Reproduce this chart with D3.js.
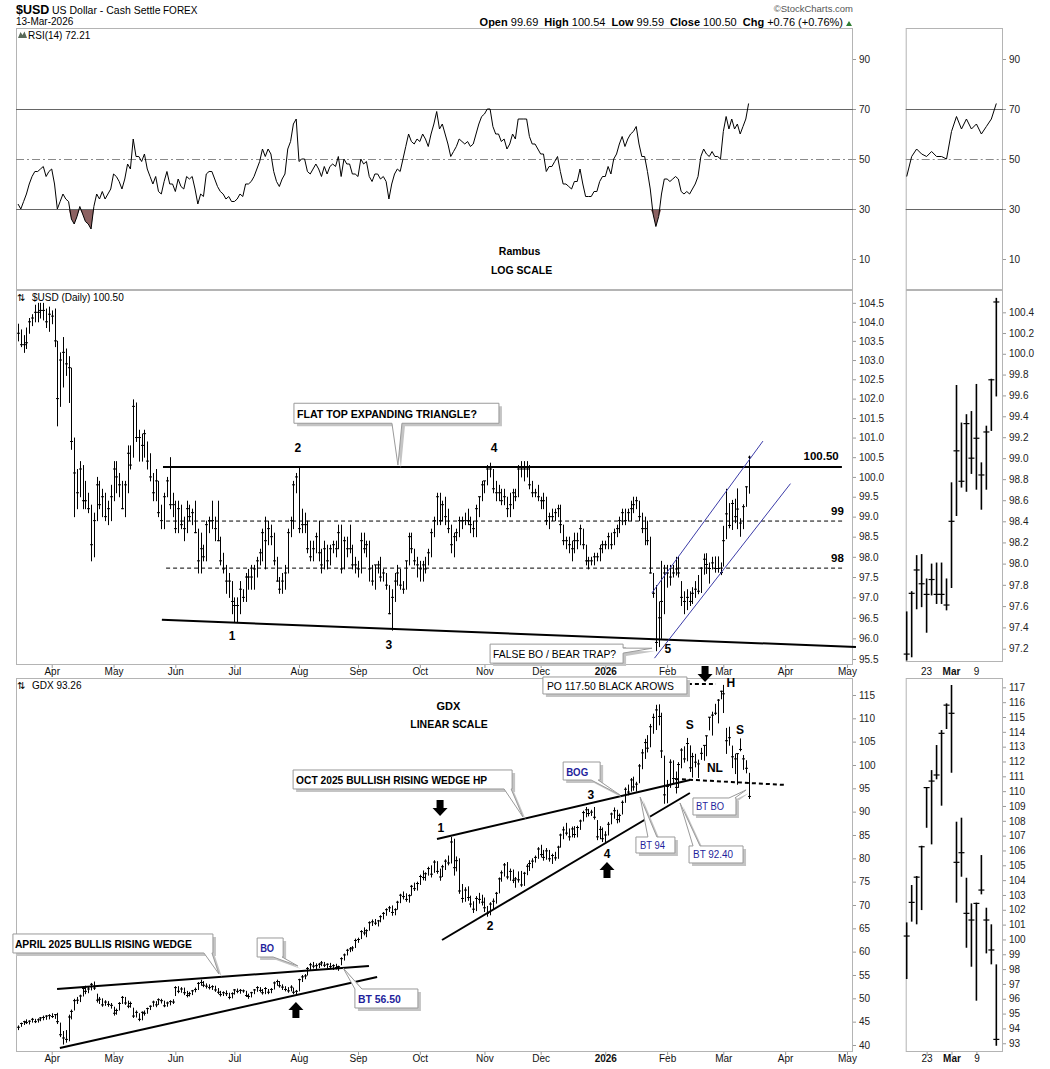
<!DOCTYPE html>
<html><head><meta charset="utf-8">
<script src="https://cdn.jsdelivr.net/npm/d3@7/dist/d3.min.js"></script>
<style>
html,body{margin:0;padding:0;background:#fff;}
svg{display:block;}
text{font-family:"Liberation Sans",Arial,sans-serif;}
</style></head><body>
<svg id="chart" width="1050" height="1069"></svg>
<script>
// ================= DATA =================
const usdHigh=[103.95,103.8,103.65,103.85,104.1,104.2,104.45,104.5,104.5,104.5,104.35,104.4,104.3,104.35,
103.5,103.2,103.6,103.3,103.1,102.8,101.0,
100.2,100.4,100.3,99.9,99.6,99.3,99.1,100.0,99.9,99.7,
99.6,99.4,99.8,100.4,100.4,100.1,99.9,99.9,100.8,100.8,
101.98,101.9,101.2,101.1,101.2,100.9,100.6,100.1,100.2,99.9,
99.3,99.6,100.0,100.5,99.6,99.4,99.4,99.3,99.0,99.4,
99.3,99.2,99.4,98.7,98.6,98.3,98.9,99.0,99.4,99.0,
99.4,98.5,98.1,97.8,97.6,97.4,97.0,97.0,97.4,97.2,
97.6,97.7,97.8,97.8,98.0,98.2,98.7,99.0,98.9,98.8,
98.6,98.0,97.5,97.6,97.8,98.7,99.0,99.9,100.1,100.25,
99.2,99.1,98.9,98.4,98.4,98.6,98.9,98.2,98.4,98.3,
98.3,98.4,98.4,98.8,98.8,98.5,98.5,98.8,98.3,98.0,
97.9,98.6,98.6,98.4,98.4,97.8,97.8,97.9,98.0,97.7,
97.6,97.3,97.2,97.6,97.8,97.7,97.4,97.9,98.6,98.6,
98.2,98.0,97.9,97.9,98.0,98.2,98.7,99.0,99.6,99.6,
99.4,99.5,99.2,98.8,98.6,98.7,99.0,99.0,99.1,99.2,
99.0,98.9,99.3,99.5,99.9,99.9,100.3,100.36,100.2,99.9,
99.8,99.7,99.7,99.5,99.6,99.7,99.7,100.3,100.4,100.4,
100.4,100.3,99.9,99.7,99.8,99.5,99.6,99.5,99.1,99.2,
99.2,99.3,99.3,98.8,98.5,98.5,98.4,98.6,98.6,98.8,
98.7,98.3,98.0,98.0,98.1,98.1,98.3,98.4,98.4,98.6,
98.6,98.7,98.8,99.0,99.2,99.2,99.2,99.4,99.5,99.5,
99.4,99.1,99.0,98.9,98.5,97.6,97.3,96.9,97.9,97.8,
97.8,97.8,97.8,98.0,98.0,97.4,97.15,97.2,97.15,97.25,97.4,
97.55,97.74,98.08,98.09,97.86,98.0,98.01,98.01,97.86,98.77,99.70,99.34,99.42,99.45,99.71,98.96,99.31,99.76,100.54];
const usdLow=[103.5,103.35,103.2,103.3,103.7,103.9,104.0,104.0,104.1,104.05,103.85,103.75,103.95,103.35,
101.3,101.8,102.3,102.6,101.9,100.7,99.0,
99.2,99.5,99.2,99.2,99.1,97.9,98.0,98.9,99.2,99.0,
98.9,98.8,98.9,99.4,99.6,99.5,99.2,99.0,99.6,100.2,
100.5,100.9,100.4,100.4,100.5,100.2,99.9,99.4,99.4,99.0,
98.7,98.7,99.5,99.2,99.0,98.6,98.6,98.7,98.4,98.6,
98.9,98.8,98.6,97.6,97.6,97.9,97.9,98.6,98.7,98.4,
98.4,97.8,97.6,97.1,97.0,96.6,96.4,96.4,96.6,96.9,
96.9,97.2,97.2,97.2,97.5,97.8,97.9,97.7,98.3,98.3,
97.8,97.4,97.1,97.1,97.2,97.6,98.5,98.7,99.6,98.6,
98.6,98.6,98.1,97.9,97.9,98.1,97.9,97.6,97.7,97.7,
97.8,98.1,98.0,98.2,97.6,97.7,98.0,98.1,97.7,97.6,
97.5,97.6,98.1,98.0,97.4,97.3,97.2,97.6,97.4,97.4,
97.2,96.6,96.2,96.9,97.3,97.2,97.1,97.2,97.8,98.1,
97.8,97.5,97.4,97.4,97.6,97.8,98.0,98.5,98.8,98.8,
98.9,98.8,98.6,98.1,98.0,98.4,98.5,98.7,98.8,98.8,
98.6,98.5,98.5,99.0,99.4,99.6,99.8,100.0,99.6,99.4,
99.4,99.3,99.3,99.0,99.0,99.2,99.4,99.5,100.0,99.9,
100.0,99.7,99.5,99.5,99.4,99.2,99.2,98.8,98.7,98.9,
98.9,99.0,98.6,98.3,98.2,98.1,97.9,98.1,98.2,98.3,
98.2,97.8,97.7,97.8,97.8,97.9,97.9,98.1,98.2,98.2,
98.2,98.3,98.5,98.6,98.8,98.8,98.9,98.9,99.1,99.2,
98.9,98.6,98.3,98.3,97.6,97.0,95.7,95.8,96.0,96.6,
97.25,97.3,97.5,97.55,97.5,96.8,96.6,96.7,96.8,96.85,97.0,
97.09,97.12,97.57,97.59,97.35,97.70,97.62,97.62,97.56,97.77,98.45,98.72,98.68,98.85,98.70,98.51,98.70,99.26,99.59];
const usdClose=[103.7,103.4,103.4,103.45,104.0,104.1,104.25,104.25,104.3,104.3,104.0,104.2,104.15,103.5,
102.0,103.0,103.2,102.9,102.8,100.9,100.1,
99.6,100.2,99.4,99.4,99.2,98.3,98.9,99.8,99.3,99.5,
99.0,99.2,99.5,100.2,100.0,99.8,99.2,99.8,100.6,100.3,
101.8,101.0,101.0,100.8,101.1,100.4,100.0,99.6,99.9,99.1,
98.9,99.5,99.9,99.3,99.3,98.7,99.2,98.8,98.7,99.2,
99.0,99.1,98.6,97.9,98.2,98.0,98.8,98.9,98.9,98.7,
98.4,97.9,97.7,97.4,97.4,96.9,96.8,96.8,97.2,97.0,
97.5,97.5,97.5,97.7,97.9,98.1,98.6,98.4,98.7,98.5,
97.9,97.4,97.2,97.4,97.6,98.6,98.9,99.8,100.0,98.7,
98.8,98.8,98.2,98.0,98.2,98.5,98.1,97.8,98.2,97.9,
98.2,98.3,98.2,98.6,97.7,98.4,98.2,98.2,97.8,97.8,
97.7,98.4,98.2,98.3,97.7,97.4,97.8,97.8,97.5,97.6,
97.3,96.6,97.0,97.4,97.6,97.3,97.2,97.9,98.5,98.2,
97.9,97.8,97.7,97.8,97.7,98.1,98.6,98.9,99.5,98.9,
99.3,99.0,98.7,98.3,98.5,98.6,98.9,98.9,98.9,98.9,
98.8,98.7,99.2,99.5,99.8,99.9,100.2,100.2,99.7,99.6,
99.6,99.4,99.5,99.2,99.3,99.6,99.5,100.2,100.2,100.2,
100.2,99.8,99.6,99.6,99.5,99.4,99.4,98.9,99.0,99.0,
99.1,99.2,98.8,98.4,98.4,98.3,98.2,98.4,98.4,98.7,
98.3,97.9,97.9,97.9,98.0,98.0,98.2,98.3,98.3,98.5,
98.3,98.6,98.7,98.9,99.1,98.9,99.1,99.2,99.3,99.4,
99.0,98.7,98.7,98.4,97.6,97.1,95.9,96.5,96.9,97.6,
97.6,97.5,97.6,97.7,97.6,97.0,96.9,97.0,96.9,97.1,97.2,
97.15,97.72,97.94,97.81,97.71,97.85,97.71,97.71,97.61,98.40,99.07,98.78,99.33,99.0,99.19,98.84,99.25,99.75,100.50];

const gdxHigh=[44.2,44.8,45.2,45.5,45.3,45.8,45.6,45.7,46.0,46.3,
46.4,46.6,46.8,46.6,46.9,44.8,43.0,43.2,46.5,47.6,
49.9,50.3,50.8,52.4,52.7,52.5,53.3,53.6,51.0,50.3,
50.0,49.6,49.4,49.0,48.2,47.8,49.2,50.5,50.3,49.5,
49.3,48.0,47.4,46.8,47.2,47.4,48.0,48.5,49.5,49.4,
50.0,49.9,49.5,49.3,49.6,49.8,52.6,52.6,52.4,52.3,
51.6,51.4,51.8,52.3,53.5,54.0,53.7,53.2,53.0,52.8,
52.7,52.2,51.6,51.5,51.7,51.2,51.3,52.0,52.1,52.0,
51.9,51.6,51.0,51.4,52.0,52.6,52.4,52.0,52.4,52.0,
52.2,53.6,54.0,53.7,53.0,52.6,52.4,52.8,52.3,51.8,
54.2,55.0,55.2,56.7,57.6,57.8,57.5,57.6,58.0,57.8,
57.5,57.6,57.3,57.4,57.0,58.8,59.6,60.6,61.0,61.2,
62.8,63.0,64.6,65.2,64.8,66.5,66.9,67.0,66.8,67.8,
68.5,69.3,69.8,69.9,69.3,70.9,72.4,72.9,72.5,72.3,
74.3,74.8,75.0,76.5,77.4,77.0,78.2,78.5,79.6,79.4,
77.8,78.6,79.8,80.6,84.6,84.2,80.4,80.0,74.5,73.8,
74.0,72.0,70.8,71.9,72.6,72.2,71.6,69.8,70.6,71.4,
72.8,75.9,77.4,79.0,79.2,77.8,77.6,76.0,77.2,77.3,
77.1,78.8,79.6,80.0,80.6,82.4,82.9,81.8,82.2,81.8,
81.0,81.4,82.7,85.3,86.8,87.6,86.4,86.8,86.9,87.0,
88.3,90.2,91.0,90.6,90.4,91.0,88.2,86.9,86.6,85.8,
87.8,89.8,90.9,90.4,89.6,92.4,95.2,95.8,97.2,97.5,
96.4,100.2,103.4,105.6,106.4,108.8,111.0,112.9,113.0,111.2,
102.0,96.8,101.2,101.0,98.6,100.6,103.6,104.0,105.8,104.2,102.6,102.4,
101.15,103.67,104.28,106.32,110.26,111.42,113.11,114.12,115.92,117.16,107.94,108.21,104.16,102.43,102.48,105.69,102.14,101.02,98.32];
const gdxLow=[43.3,44.0,44.4,44.6,44.5,44.9,44.8,44.9,45.2,45.4,
45.5,45.6,45.9,45.7,44.6,41.8,40.2,40.6,40.9,45.6,
47.5,48.9,49.3,50.5,51.0,51.2,51.8,51.9,49.2,48.9,
48.3,48.5,48.3,47.9,46.4,46.6,47.5,48.9,48.7,48.0,
48.1,45.9,46.0,45.2,45.4,46.4,46.8,47.6,48.3,48.2,
48.7,49.0,48.2,48.3,48.6,48.9,50.6,51.2,51.3,50.8,
50.3,50.5,50.8,51.4,51.9,52.8,52.5,52.2,52.0,51.9,
51.5,51.0,50.5,50.6,50.6,49.9,50.1,50.9,51.2,51.1,
51.3,50.4,50.0,50.3,51.0,51.5,51.4,50.9,51.0,51.0,
51.2,52.0,52.8,52.4,51.9,51.6,51.3,51.6,51.0,50.9,
51.6,53.6,54.2,55.0,56.2,56.5,56.4,56.6,57.0,56.8,
56.6,56.5,56.2,56.3,56.0,57.2,58.2,59.3,60.0,60.2,
60.9,62.0,62.8,63.6,63.2,64.6,65.6,65.8,65.5,66.4,
67.0,67.8,68.6,67.8,67.9,69.1,70.5,71.3,70.8,70.6,
72.1,73.1,73.2,74.4,75.4,75.3,76.4,76.0,77.0,76.8,
75.3,76.1,77.6,78.6,79.0,76.4,77.3,72.5,70.6,70.8,
71.0,69.6,68.4,68.8,70.4,70.0,68.6,67.6,67.9,69.2,
70.4,72.6,75.1,76.2,75.6,75.3,74.8,73.8,74.9,74.0,
74.2,76.5,77.4,78.0,79.2,80.0,80.3,79.6,79.8,79.4,
78.9,79.6,80.0,82.4,84.2,85.0,83.9,84.6,84.5,84.6,
86.2,88.0,88.9,89.1,89.2,88.4,84.0,84.2,83.6,83.5,
85.0,87.4,88.6,87.6,87.8,89.5,92.0,93.6,94.4,94.6,
94.4,96.2,99.2,101.4,102.8,103.9,106.8,107.6,108.6,101.6,
91.8,91.9,95.2,96.2,94.0,95.2,99.4,100.6,100.9,98.6,97.4,99.6,
97.33,101.2,101.02,101.98,107.53,106.41,110.8,109.02,114.19,111.24,102.48,104.23,99.44,98.16,95.87,103.04,99.06,98.32,92.83];
const gdxClose=[43.8,44.6,45.0,44.8,45.1,45.5,45.0,45.4,45.8,45.9,
46.2,46.3,46.1,46.5,45.0,42.2,41.5,41.2,46.0,47.2,
49.5,49.6,50.5,52.1,51.5,52.0,53.0,52.2,49.6,49.8,
48.6,49.2,48.7,48.5,46.8,47.4,48.9,50.2,49.0,48.3,
48.9,46.2,47.0,45.5,47.0,46.8,47.8,48.3,49.2,48.6,
49.7,49.5,48.4,49.0,49.3,49.2,52.3,51.5,52.0,51.2,
50.6,51.0,51.6,51.9,53.2,53.4,52.8,52.6,52.3,52.5,
51.8,51.3,50.8,51.2,51.0,50.2,51.0,51.8,51.5,51.7,
51.6,50.6,50.4,51.2,51.8,52.3,51.7,51.2,52.1,51.3,
51.9,53.3,53.6,52.7,52.4,51.9,51.6,52.4,51.3,51.5,
54.0,54.6,54.8,56.4,57.2,56.9,57.0,57.3,57.6,57.1,
57.3,56.8,57.0,56.6,56.8,58.5,59.3,60.3,60.6,60.8,
62.4,62.6,64.3,64.0,64.5,66.2,66.4,66.1,66.6,67.5,
68.2,69.0,69.4,68.4,69.0,70.6,72.1,71.8,71.2,72.0,
74.0,73.5,74.6,76.1,75.9,76.7,77.8,76.6,79.2,77.2,
76.0,78.2,79.4,79.0,83.5,78.0,79.5,73.0,71.4,73.2,
71.6,70.2,69.1,71.4,71.2,70.6,69.4,68.2,70.2,70.8,
72.5,75.6,76.9,78.6,76.0,77.2,75.3,75.6,75.4,74.3,
76.8,78.3,78.9,79.4,80.2,82.0,80.8,80.2,81.6,79.9,
80.6,80.1,82.4,85.0,86.1,85.4,84.6,86.3,85.1,86.6,
88.0,89.8,90.4,89.6,89.9,88.8,84.6,86.2,84.2,85.0,
87.3,89.5,90.2,88.3,89.2,92.0,94.8,94.2,96.8,95.3,
95.9,99.8,102.6,104.8,103.6,108.2,110.2,111.8,110.4,103.0,
93.6,95.4,100.6,97.1,95.2,100.1,103.2,101.3,104.6,99.4,101.8,100.6,
100.23,102.5,104.2,106.25,110.24,110.68,111.09,113.9,115.8,115.25,105.2,105.85,101.76,101.31,102.43,103.33,101.31,99.29,93.26];

const rsiValues=[32,30,33,36,40,43,45,45,46,47,
43,45,46,40,30,33,36,34,33,26,
24,27,31,28,25,24,22,31,36,34,
37,34,36,38,44,43,41,38,42,48,
46,58,51,51,49,52,46,43,40,43,
37,36,41,45,40,40,37,42,39,38,
43,42,43,38,32,36,35,44,45,45,
42,39,37,36,34,35,33,33,34,36,
35,40,40,41,43,46,49,54,51,54,
52,45,41,39,42,44,54,57,64,66,
49,50,50,45,44,46,48,46,43,47,
44,47,48,47,51,43,50,48,48,44,
44,43,50,48,49,43,41,44,44,42,
43,41,34,40,44,46,45,50,55,60,
57,56,58,57,60,58,55,60,64,69,
62,64,60,56,51,53,55,58,57,56,
57,55,56,60,64,67,68,70,70,63,
60,60,57,58,54,56,60,58,66,66,
66,66,59,56,56,54,52,52,45,47,
47,49,51,45,40,40,39,38,41,41,
46,40,35,35,35,37,37,41,43,43,
47,44,50,52,56,59,55,58,60,61,
63,56,51,51,45,38,28,23,27,36,
42,42,41,42,43,42,37,36,37,36,
38,40,43,51,54,52,51,53,51,51,
50,61,67,62,66,62,64,60,63,66,
72.21];

const firstDate=[2025,2,14];      // first bar (weekday series)
const axisBars=298;                // bars incl. future space on the axis
const zoomBars=19;                 // bars shown in the right-hand panels
const rsiTicks=[10,30,50,70,90];
const rsiLevels=[30,50,70];
const usdTicks=d3.range(95.5,104.51,0.5);
const usdZoomTicks=d3.range(97.2,100.41,0.2);
const gdxTicks=d3.range(40,116,5);
const gdxZoomTicks=d3.range(93,118,1);
const zoomDateLabels=[[4,"23"],[9,"Mar"],[14,"9"]];

// annotations (in bar index / price coordinates)
const usdSolidLines=[[[51.6,100.25],[293.2,100.25]],[[51.2,96.45],[298.2,95.79]]];
const usdDashLines=[[[52.7,98.89],[294.3,98.89]],[[52.7,97.72],[294.3,97.72]]];
const usdChannel=[[[225.6,97.11],[265.1,100.91]],[[226.5,95.52],[274.9,99.83]]];
const usdPointLabels=[["1",76.2,96.06],["2",99.6,100.73],["3",132,95.84],["4",169.4,100.73],["5",231.3,95.74]];
const usdLevelLabels=[["100.50",285.8,100.53],["99",291.6,99.14],["98",291.6,97.97]];
const gdxSolidLines=[[[149.1,84.14],[239.1,96.79]],[[150.9,62.5],[239.1,94.0]],[[13.9,52.0],[124.9,56.93]],[[14.9,39.36],[127.8,54.58]]];
const gdxDashLines=[[[233.8,97.0],[273.3,95.72]],[[238.4,117.36],[248.4,117.36]]];
const gdxPointLabels=[["1",150.5,86.5],["2",168,65.5],["3",203.9,93.57],["4",209.6,80.93],["H",253.7,117.57],["S",239.1,108.57],["S",256.9,107.5],["NL",248,99.36]];
const gdxDownArrows=[[150.2,90.8],[244.5,119.5]];
const gdxUpArrows=[[209.6,77.5],[98.9,47.5]];

// ================= LAYOUT / SCALES =================
const svg=d3.select("#chart");
const VF='"DejaVu Sans",Verdana,sans-serif';
const AF='"Liberation Sans",Arial,sans-serif';
const L=16,R=853,RL=905.7,RR=1003;
const P={rsi:[28,290],usd:[290,665],gdx:[678,1052]};
const PR={rsi:[28,290],usd:[290,662],gdx:[678,1052]};
const n=usdClose.length;
const off=n-zoomBars;

const dates=[];{let d=new Date(firstDate[0],firstDate[1],firstDate[2]);while(dates.length<axisBars){const w=d.getDay();if(w!==0&&w!==6)dates.push(new Date(d));d.setDate(d.getDate()+1);}}
const monthTicks=[];for(let i=1;i<dates.length;i++){if(dates[i].getMonth()!==dates[i-1].getMonth())monthTicks.push(i);}
const monthLabel=i=>dates[i].getMonth()===0?String(dates[i].getFullYear()):d3.timeFormat("%b")(dates[i]);

const x=d3.scaleLinear().domain([-0.71,297.15]).range([L,R]);
const xr=d3.scaleLinear().domain([-0.2,19.34]).range([RL,RR]);
const yRsi=d3.scaleLinear().domain([-2.4,102.4]).range([P.rsi[1],P.rsi[0]]);
const yUsd=d3.scaleLog().domain([95.355,104.84]).range([P.usd[1],P.usd[0]]);
const yUsdR=d3.scaleLog().domain([97.076,100.616]).range([PR.usd[1],PR.usd[0]]);
const yGdx=d3.scaleLinear().domain([38.5,118.64]).range([P.gdx[1],P.gdx[0]]);
const yGdxR=d3.scaleLinear().domain([92.41,117.63]).range([PR.gdx[1],PR.gdx[0]]);

// ================= HEADER =================
const hd=svg.append("g");
hd.append("text").attr("x",16).attr("y",14).attr("font-size",12.5).attr("font-weight","bold").text("$USD");
hd.append("text").attr("x",52).attr("y",14).attr("font-size",10.5).text("US Dollar - Cash Settle");
hd.append("text").attr("x",163).attr("y",14).attr("font-size",10).attr("font-family",'"DejaVu Sans Mono",monospace').text("FOREX");
hd.append("text").attr("x",16).attr("y",25).attr("font-size",10).text("13-Mar-2026");
hd.append("text").attr("x",853).attr("y",12).attr("text-anchor","end").attr("font-size",9.5).attr("font-family",VF).attr("fill","#555").text("\u00A9StockCharts.com");
{const t=hd.append("text").attr("x",843).attr("y",26).attr("text-anchor","end").attr("font-size",11);
 const parts=[["Open",1],[" 99.69",0],["High",1,6],[" 100.54",0],["Low",1,6],[" 99.59",0],["Close",1,6],[" 100.50",0],["Chg",1,6],[" +0.76 (+0.76%)",0]];
 parts.forEach(p=>{const s=t.append("tspan").attr("font-weight",p[1]?"bold":"normal").text(p[0]);if(p[2])s.attr("dx",p[2]);});
 hd.append("path").attr("d","M846,26L852,26L849,21Z").attr("fill","#2e7d32");}

// ================= PANELS =================
function frame(x0,y0,x1,y1){svg.append("rect").attr("x",x0+0.5).attr("y",y0+0.5).attr("width",x1-x0-1).attr("height",y1-y0-1).attr("fill","none").attr("stroke","#b4b4b4");}
frame(L,P.rsi[0],R,P.rsi[1]);frame(L,P.usd[0],R,P.usd[1]);frame(L,P.gdx[0],R,P.gdx[1]);
frame(RL,PR.rsi[0],RR,PR.rsi[1]);frame(RL,PR.usd[0],RR,PR.usd[1]);frame(RL,PR.gdx[0],RR,PR.gdx[1]);

function yAxis(xpos,scale,ticks,fmt){
  const g=svg.append("g").attr("transform",`translate(${xpos},0)`)
    .call(d3.axisRight(scale).tickValues(ticks).tickFormat(fmt).tickSize(3).tickPadding(3));
  g.select(".domain").remove();
  g.selectAll("line").attr("stroke","#999");
  g.selectAll("text").attr("font-size",10).attr("font-family",AF).attr("fill","#222");
}
yAxis(R,yRsi,rsiTicks,d3.format("d"));yAxis(RR,yRsi,rsiTicks,d3.format("d"));
yAxis(R,yUsd,usdTicks,d3.format(".1f"));yAxis(RR,yUsdR,usdZoomTicks,d3.format(".1f"));
yAxis(R,yGdx,gdxTicks,d3.format("d"));yAxis(RR,yGdxR,gdxZoomTicks,d3.format("d"));

function xAxis(ypos,scale,ticks,fmt,boldTest){
  const g=svg.append("g").attr("transform",`translate(0,${ypos})`)
    .call(d3.axisBottom(scale).tickValues(ticks).tickFormat(fmt).tickSize(3).tickPadding(0));
  g.select(".domain").remove();
  g.selectAll("line").attr("stroke","#999");
  g.selectAll("text").attr("font-size",10).attr("font-family",AF).attr("fill","#111")
    .attr("font-weight",d=>boldTest(d)?"bold":"normal");
}
xAxis(P.usd[1],x,monthTicks,monthLabel,i=>dates[i].getMonth()===0);
xAxis(P.gdx[1],x,monthTicks,monthLabel,i=>dates[i].getMonth()===0);
const zl=new Map(zoomDateLabels);
const zTicks=zoomDateLabels.map(d=>d[0]);
xAxis(PR.gdx[1],xr,zTicks,k=>zl.get(k),k=>zl.get(k)==="Mar");
// date labels between the right-hand USD and GDX panels
svg.append("g").selectAll("text").data(zoomDateLabels).join("text")
  .attr("x",d=>xr(d[0])).attr("y",675).attr("text-anchor","middle").attr("font-size",10).attr("font-family",AF)
  .attr("font-weight",d=>d[1]==="Mar"?"bold":"normal").attr("fill","#111").text(d=>d[1]);

// panel titles
function arrowsIcon(xp,yp){svg.append("text").attr("x",xp).attr("y",yp).attr("font-size",10).attr("font-family",VF).text("\u21C5");}
svg.append("path").attr("d","M18,38L20.5,32L22.5,35L24.5,31.5L27,38Z").attr("fill","#5a6b5a");
svg.append("text").attr("x",28).attr("y",38.5).attr("font-size",10).attr("font-family",VF).text("RSI(14) 72.21");
arrowsIcon(17,301);svg.append("text").attr("x",32).attr("y",301).attr("font-size",10).attr("font-family",VF).text("$USD (Daily) 100.50");
arrowsIcon(17,689);svg.append("text").attr("x",32).attr("y",689).attr("font-size",10).attr("font-family",VF).text("GDX 93.26");

// ================= RSI =================
function drawRsi(xs,vals){
  const g=svg.append("g");
  g.append("path").datum(vals).attr("fill","#8c6262")
    .attr("d",d3.area().x((d,i)=>xs(i)).y0(yRsi(30)).y1(d=>yRsi(Math.min(d,30))));
  rsiLevels.forEach(v=>{
    g.append("line").attr("x1",xs.range()[0]).attr("x2",xs.range()[1]).attr("y1",Math.round(yRsi(v))+0.5).attr("y2",Math.round(yRsi(v))+0.5)
     .attr("stroke",v===50?"#8a8a8a":"#666").attr("stroke-dasharray",v===50?"8,3,2,3":null);
  });
  g.append("path").datum(vals).attr("fill","none").attr("stroke","#000").attr("stroke-width",1)
    .attr("d",d3.line().x((d,i)=>xs(i)).y(d=>yRsi(d)));
}
drawRsi(x,rsiValues);
drawRsi(xr,rsiValues.slice(off));
svg.append("text").attr("x",x(178.5)).attr("y",yRsi(13.2)).attr("text-anchor","middle").attr("dominant-baseline","central").attr("font-size",10.5).attr("font-weight","bold").text("Rambus");
svg.append("text").attr("x",x(179.2)).attr("y",yRsi(5.6)).attr("text-anchor","middle").attr("dominant-baseline","central").attr("font-size",10.5).attr("font-weight","bold").text("LOG SCALE");

// ================= BARS =================
function drawBars(ys,hi,lo,cl){
  const g=svg.append("g");
  const idx=d3.range(hi.length);
  const px=i=>Math.round(x(i))+0.5;
  g.selectAll("line.v").data(idx).join("line").attr("class","v")
    .attr("x1",px).attr("x2",px).attr("y1",i=>ys(hi[i])).attr("y2",i=>ys(lo[i])+0.5)
    .attr("stroke","#000").attr("stroke-width",1);
  g.selectAll("line.c").data(idx).join("line").attr("class","c")
    .attr("x1",i=>px(i)-1.5).attr("x2",i=>px(i)+1.5).attr("y1",i=>ys(cl[i])).attr("y2",i=>ys(cl[i]))
    .attr("stroke","#000").attr("stroke-width",1);
}
drawBars(yUsd,usdHigh,usdLow,usdClose);
drawBars(yGdx,gdxHigh,gdxLow,gdxClose);
function drawZoom(ys,hi,lo,cl){
  const g=svg.append("g");
  const idx=d3.range(off,hi.length);
  g.selectAll("line.v").data(idx).join("line").attr("class","v")
    .attr("x1",i=>xr(i-off)).attr("x2",i=>xr(i-off)).attr("y1",i=>ys(hi[i])).attr("y2",i=>ys(lo[i]))
    .attr("stroke","#000").attr("stroke-width",1.6);
  g.selectAll("line.c").data(idx).join("line").attr("class","c")
    .attr("x1",i=>xr(i-off)-3).attr("x2",i=>xr(i-off)+3).attr("y1",i=>ys(cl[i])).attr("y2",i=>ys(cl[i]))
    .attr("stroke","#000").attr("stroke-width",1.2);
}
drawZoom(yUsdR,usdHigh,usdLow,usdClose);
drawZoom(yGdxR,gdxHigh,gdxLow,gdxClose);

// ================= ANNOTATIONS =================
const ann=svg.append("g");
function seg(ys,pts,sw,col,dash){
  ann.append("line").attr("x1",x(pts[0][0])).attr("y1",ys(pts[0][1])).attr("x2",x(pts[1][0])).attr("y2",ys(pts[1][1]))
    .attr("stroke",col).attr("stroke-width",sw).attr("stroke-dasharray",dash||null);
}
usdSolidLines.forEach(p=>seg(yUsd,p,2,"#000"));
usdDashLines.forEach(p=>seg(yUsd,p,1,"#000","4,3"));
usdChannel.forEach(p=>seg(yUsd,p,1,"#3c3ca8"));
gdxSolidLines.forEach(p=>seg(yGdx,p,2,"#000"));
gdxDashLines.forEach(p=>seg(yGdx,p,2,"#000","4,3"));

function lbl(ys,t,i,v,size){
  ann.append("text").attr("x",x(i)).attr("y",ys(v)).attr("text-anchor","middle").attr("dominant-baseline","central")
    .attr("font-size",size).attr("font-weight","bold").text(t);
}
usdPointLabels.forEach(d=>lbl(yUsd,d[0],d[1],d[2],12));
usdLevelLabels.forEach(d=>lbl(yUsd,d[0],d[1],d[2],11.5));
gdxPointLabels.forEach(d=>lbl(yGdx,d[0],d[1],d[2],12));
lbl(yGdx,"GDX",153.2,112.64,11);
lbl(yGdx,"LINEAR SCALE",153.4,108.79,10.5);

function blockArrow(cx,cy,dir){
  const p=[[-3.5,-8],[3.5,-8],[3.5,0],[7.5,0],[0,8],[-7.5,0],[-3.5,0]];
  ann.append("path").attr("d","M"+p.map(([a,b])=>[cx+a,cy+b*dir].join(",")).join("L")+"Z").attr("fill","#000");
}
gdxDownArrows.forEach(d=>blockArrow(x(d[0]),yGdx(d[1]),1));
gdxUpArrows.forEach(d=>blockArrow(x(d[0]),yGdx(d[1]),-1));

// callouts: box top-left in data coords, size in px, tail base offsets in px, tip in data coords
function callout(ys,o){
  const x0=x(o.at[0]),y0=ys(o.at[1]),x1=x0+o.w,y1=y0+o.h;
  const pts=[[x0,y0]];const t=o.tail;const tip=t?[x(t.tip[0]),ys(t.tip[1])]:null;
  if(t&&t.edge==="top")pts.push([x0+t.a,y0],tip,[x0+t.b,y0]);
  pts.push([x1,y0]);
  if(t&&t.edge==="right")pts.push([x1,y0+t.a],tip,[x1,y0+t.b]);
  pts.push([x1,y1]);
  if(t&&t.edge==="bottom")pts.push([x0+t.b,y1],tip,[x0+t.a,y1]);
  pts.push([x0,y1]);
  const d="M"+pts.map(p=>p.join(",")).join("L")+"Z";
  ann.append("path").attr("d",d).attr("transform","translate(3,3)").attr("fill","#c4c4c4");
  ann.append("path").attr("d",d).attr("fill","#fff").attr("stroke","#9a9a9a").attr("stroke-width",1);
  ann.append("text").attr("x",x0+o.pad).attr("y",y0+o.h/2+0.5).attr("dominant-baseline","central")
    .attr("font-size",o.size).attr("font-weight",o.bold?"bold":"normal").attr("fill",o.color)
    .attr("textLength",o.tl).attr("lengthAdjust","spacingAndGlyphs").text(o.text);
}
const BLUE="#1f1f9c";
callout(yUsd,{at:[98.2,101.88],w:205,h:20,pad:3,text:"FLAT TOP EXPANDING TRIANGLE?",bold:1,size:10.5,tl:180,color:"#000",tail:{edge:"bottom",a:98,b:108,tip:[135.2,100.30]}});
callout(yUsd,{at:[168,95.86],w:133,h:19,pad:3,text:"FALSE BO / BEAR TRAP?",bold:0,size:10.5,tl:123,color:"#000",tail:{edge:"right",a:4,b:9,tip:[225.6,95.76]}});
callout(yGdx,{at:[186.8,118.86],w:144,h:17,pad:4,text:"PO 117.50 BLACK AROWS",bold:0,size:10.5,tl:127,color:"#000"});
callout(yGdx,{at:[97.9,98.93],w:219,h:19,pad:3,text:"OCT 2025 BULLISH RISING WEDGE HP",bold:1,size:10.5,tl:191,color:"#000",tail:{edge:"bottom",a:211,b:218,tip:[179.7,88.86]}});
callout(yGdx,{at:[194,100.64],w:37,h:18,pad:3,text:"BOG",bold:1,size:10.5,tl:22,color:BLUE,tail:{edge:"bottom",a:28,b:35,tip:[214.2,93.57]}});
callout(yGdx,{at:[219.9,84.57],w:39,h:16,pad:4,text:"BT 94",bold:0,size:10,tl:25,color:BLUE,tail:{edge:"top",a:12,b:21,tip:[221.4,93.14]}});
callout(yGdx,{at:[238.8,82.65],w:54,h:17,pad:4,text:"BT 92.40",bold:0,size:10,tl:40,color:BLUE,tail:{edge:"top",a:4,b:11,tip:[235.6,91.86]}});
callout(yGdx,{at:[240.2,92.93],w:43,h:17,pad:3,text:"BT BO",bold:0,size:10,tl:28,color:BLUE,tail:{edge:"top",a:36,b:42,tip:[259.1,94.64]}});
callout(yGdx,{at:[-1.8,63.79],w:200,h:19,pad:2,text:"APRIL 2025 BULLIS RISING WEDGE",bold:1,size:10.5,tl:177,color:"#000",tail:{edge:"bottom",a:191,b:199,tip:[71.5,55.22]}});
callout(yGdx,{at:[85.1,62.93],w:26,h:19,pad:3,text:"BO",bold:1,size:10.5,tl:14,color:BLUE,tail:{edge:"bottom",a:16,b:25,tip:[99.6,56.93]}});
callout(yGdx,{at:[119.9,52.0],w:63,h:19,pad:3,text:"BT 56.50",bold:1,size:10.5,tl:43,color:BLUE,tail:{edge:"top",a:0,b:7,tip:[115.7,56.5]}});
</script>
</body></html>
